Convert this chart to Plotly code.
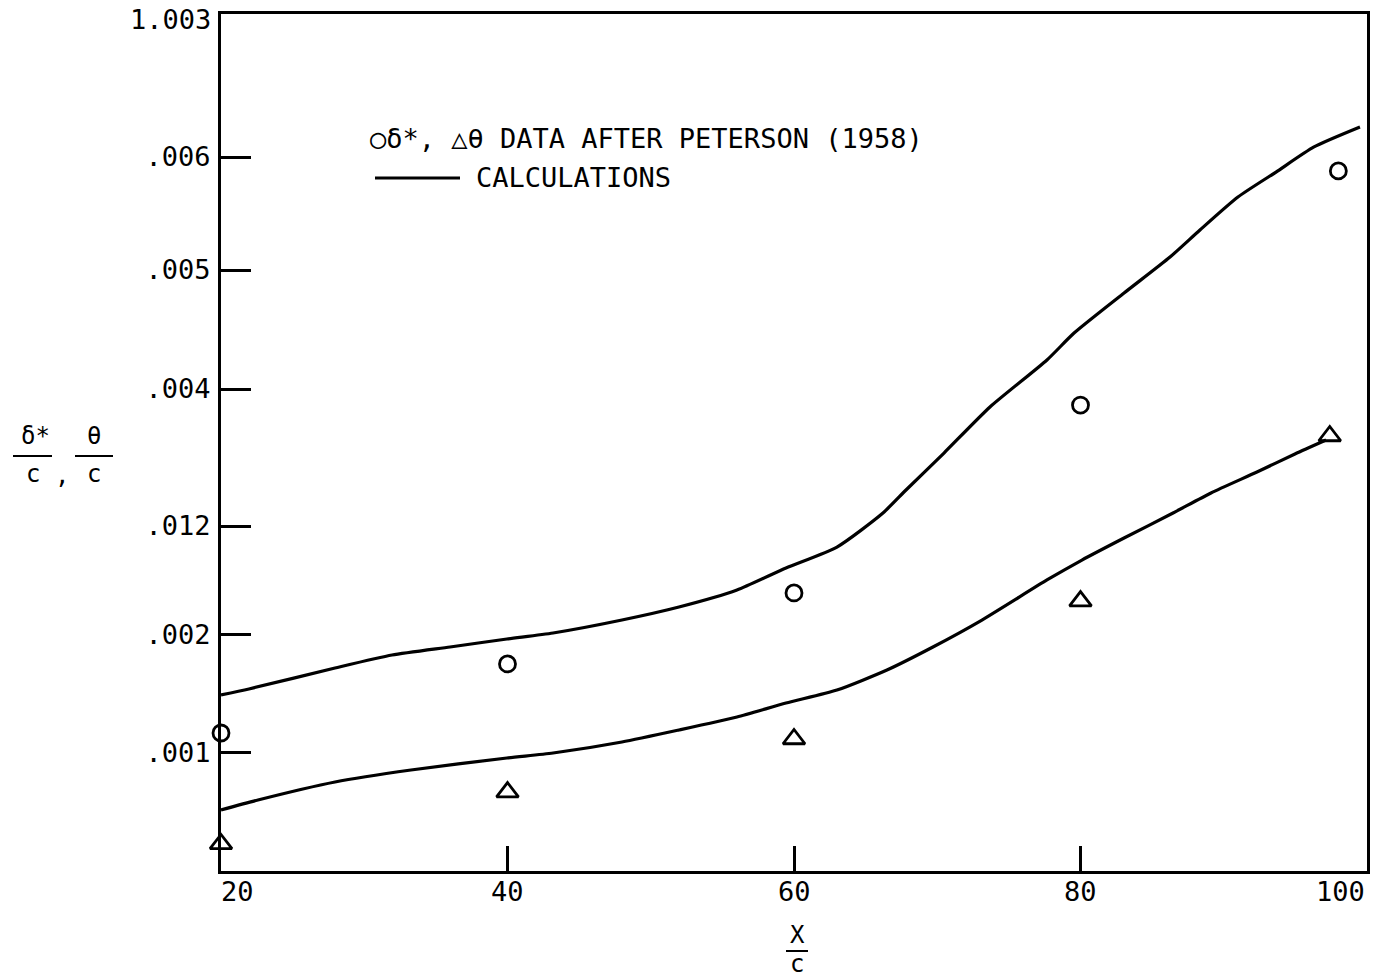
import plotly.graph_objects as go

# x/c stations of the measured profiles
x_data = [20, 40, 60, 80, 98.0]
x_theta = [20, 40, 60, 80, 97.4]

# measured displacement thickness (circles) and momentum thickness (triangles)
delta_star = [0.001127, 0.001691, 0.002271, 0.003806, 0.005718]
theta = [0.000221, 0.000645, 0.001078, 0.002205, 0.003553]

# calculated displacement thickness
calc_delta_x = [20.0, 21.95, 27.96, 31.94, 35.99, 39.96, 43.18, 47.99, 51.97, 56.02,
                59.44, 63.0, 66.21, 67.82, 70.47, 73.68, 77.66, 79.55, 83.04, 86.25,
                88.34, 90.99, 93.65, 96.30, 99.51]
calc_delta_y = [0.001438, 0.001487, 0.001658, 0.001764, 0.001830, 0.001895, 0.001944,
                0.002050, 0.002156, 0.002295, 0.002475, 0.002646, 0.002924, 0.003112,
                0.003414, 0.003790, 0.004174, 0.004394, 0.004721, 0.005015, 0.005236,
                0.005505, 0.005709, 0.005914, 0.006077]

# calculated momentum thickness
calc_theta_x = [20.0, 22.58, 27.96, 33.26, 39.96, 43.18, 47.99, 51.97, 56.02, 59.44,
                63.0, 66.49, 69.70, 73.12, 77.66, 80.10, 83.04, 86.46, 89.11, 92.32,
                94.97, 97.14]
calc_theta_y = [0.000498, 0.000580, 0.000727, 0.000825, 0.000923, 0.000964, 0.001054,
                0.001152, 0.001258, 0.001372, 0.001478, 0.001642, 0.001830, 0.002050,
                0.002377, 0.002540, 0.002720, 0.002924, 0.003088, 0.003259, 0.003406,
                0.003520]

# axis ticks as printed on the chart
x_ticks = [20, 40, 60, 80, 100]
x_ticktext = ["20", "40", "60", "80", "100"]
y_ticks = [0.005832, 0.004909, 0.003937, 0.002818, 0.001928, 0.000964]
y_ticktext = [".006", ".005", ".004", ".012", ".002", ".001"]
y_top_label = "1.003"   # printed at the top corner of the frame

W, H = 1376, 978
L, R, T, B = 221, 1367, 14, 871
FONT = "DejaVu Sans Mono, Liberation Mono, monospace"


def px(x):
    return (x - L) / (R - L)


def py(y):
    return (B - y) / (B - T)


fig = go.Figure()

line_style = dict(color="black", width=3.2, shape="spline", smoothing=0.6)
fig.add_trace(go.Scatter(x=calc_delta_x, y=calc_delta_y, mode="lines",
                         line=line_style, showlegend=False, hoverinfo="skip"))
fig.add_trace(go.Scatter(x=calc_theta_x, y=calc_theta_y, mode="lines",
                         line=line_style, showlegend=False, hoverinfo="skip"))
fig.add_trace(go.Scatter(x=x_data, y=delta_star, mode="markers", cliponaxis=False,
                         marker=dict(symbol="circle-open", size=16, color="black",
                                     line=dict(width=2.8, color="black")),
                         showlegend=False))
fig.add_trace(go.Scatter(x=x_theta, y=theta, mode="markers", cliponaxis=False,
                         marker=dict(symbol="triangle-up-open", size=19, color="black",
                                     line=dict(width=2.8, color="black")),
                         showlegend=False))

axis_common = dict(showline=True, linecolor="black", linewidth=3, mirror=True,
                   ticks="inside", tickcolor="black", tickwidth=2.5,
                   showgrid=False, zeroline=False, ticklabeloverflow="allow",
                   automargin=False,
                   tickfont=dict(family=FONT, size=27, color="black"))

fig.update_xaxes(range=[20, 100], tickvals=x_ticks, ticktext=x_ticktext,
                 ticklen=25, showticklabels=False, **axis_common)
fig.update_yaxes(range=[0, 0.007], tickvals=y_ticks, ticktext=y_ticktext,
                 ticklen=30, ticklabelstandoff=2, **axis_common)

annotations = []
shapes = []

# x tick labels placed on the x scale; the end labels sit inside the frame
for v, s in zip(x_ticks, x_ticktext):
    anchor = "left" if v == x_ticks[0] else ("right" if v == x_ticks[-1] else "center")
    annotations.append(dict(x=v, y=py(891), xref="x", yref="paper", text=s,
                            showarrow=False, xanchor=anchor, yanchor="middle",
                            xshift=-2 if anchor == "left" else 0,
                            font=dict(family=FONT, size=27, color="black")))


def text(x, y, s, size=27, xanchor="center"):
    annotations.append(dict(x=px(x), y=py(y), xref="paper", yref="paper", text=s,
                            showarrow=False, xanchor=xanchor, yanchor="middle",
                            font=dict(family=FONT, size=size, color="black")))


def bar(x0, x1, y, w=2):
    shapes.append(dict(type="line", xref="paper", yref="paper",
                       x0=px(x0), x1=px(x1), y0=py(y), y1=py(y),
                       line=dict(color="black", width=w)))


# label at the top of the y axis, kept just inside the page
text(213, 20, y_top_label, size=27, xanchor="right")

# key
text(368, 138, "○δ*, △θ DATA AFTER PETERSON (1958)", size=27, xanchor="left")
bar(375, 460, 178, w=3)
text(474, 178, "CALCULATIONS", size=27, xanchor="left")

# y-axis title: δ*/c , θ/c
text(35, 436, "δ*", size=24)
bar(13, 52, 456)
text(33, 474, "c", size=24)
text(62, 476, ",", size=24)
text(94, 436, "θ", size=24)
bar(75, 113, 456)
text(94, 474, "c", size=24)

# x-axis title: x/c
text(797, 935, "X", size=24)
bar(786, 808, 951)
text(797, 964, "c", size=24)

fig.update_layout(width=W, height=H, autosize=False,
                  margin=dict(l=L, r=W - R, t=T, b=H - B, pad=0, autoexpand=False),
                  paper_bgcolor="white", plot_bgcolor="white",
                  showlegend=False, annotations=annotations, shapes=shapes)

fig.write_html("out.html")
